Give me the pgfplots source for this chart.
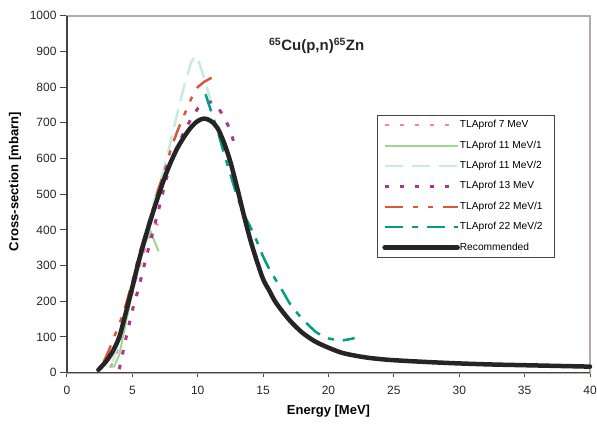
\documentclass[border=0pt]{standalone}
\usepackage{fontspec}
\setmainfont{Liberation Sans}
\usepackage{pgfplots}
\pgfplotsset{compat=1.18}
\definecolor{cPink}{HTML}{E584BF}
\definecolor{cGreen}{HTML}{9DD88E}
\definecolor{cMint}{HTML}{C9EBDD}
\definecolor{cPurple}{HTML}{A8358F}
\definecolor{cOrange}{HTML}{D9583C}
\definecolor{cTeal}{HTML}{009E82}
\definecolor{cBlack}{HTML}{262424}
\definecolor{cBorder}{HTML}{B8A9A9}
\definecolor{cAxis}{HTML}{4A4242}
\begin{document}
\begin{tikzpicture}
\path[use as bounding box] (0,0) rectangle (597pt,423pt);
\begin{axis}[
  at={(67pt,50.3pt)}, anchor=south west,
  scale only axis, width=523pt, height=357pt,
  xmin=0, xmax=40, ymin=0, ymax=1000,
  xtick={0,5,...,40}, ytick={0,100,...,1000},
  tick pos=left, tick align=outside,
  major tick length=7pt,
  xtick style={/pgfplots/major tick length=4.5pt},
  axis line style={draw=cBorder, line width=2pt},
  tick style={draw=cAxis, line width=1pt},
  clip=false,
  /pgf/number format/assume math mode=true,
  /pgf/number format/1000 sep={},
  tick label style={font=\fontsize{12}{14}\selectfont, text=black!85},
  xticklabel style={yshift=-3pt},
  xlabel={Energy [MeV]}, ylabel={Cross-section [mbarn]},
  label style={font=\bfseries\fontsize{13}{15}\selectfont},
  x label style={at={(axis description cs:0.5,-0.1073)}, anchor=center},
  y label style={at={(axis description cs:-0.0994,0.535)}, anchor=center, rotate=0},
  legend image code/.code={\draw[#1] (0pt,0pt) -- (73pt,0pt);},
  legend cell align=left,
  legend style={at={(axis description cs:0.5927,0.7218)}, anchor=north west,
    draw=cAxis, line width=0.8pt, inner xsep=5pt, inner ysep=4.8pt,
    font=\fontsize{10.2}{12}\selectfont, row sep=10.4pt,
    nodes={text height=7.5pt, text depth=2.5pt, inner sep=0pt}},
]
\draw[cAxis, line width=1.3pt] (rel axis cs:0,1) -- (rel axis cs:0,0) -- (rel axis cs:1,0);

\addplot[cPink, line width=2pt, dash pattern=on 4.5pt off 10.5pt] coordinates {
(3.3,15) (3.7,40) (4.0,80) (4.5,150) (5.0,220) (5.5,290) (6.0,350) (6.5,400) (6.8,418) (7.3,405)};
\addlegendentry{\makebox[90pt][l]{TLAprof 7 MeV}}

\addplot[cGreen, line width=2pt] coordinates {
(3.2,17) (3.6,17) (4.0,50) (4.5,140) (5.0,225) (5.5,300) (6.0,365) (6.4,395) (7.0,340)};
\addlegendentry{TLAprof 11 MeV/1}

\addplot[cMint, line width=2.5pt, dash pattern=on 18pt off 9pt] coordinates {
(3.5,30) (4.0,100) (4.5,170) (5.0,245) (5.5,320) (6.0,390) (6.5,460) (7.0,525) (7.5,580) (8.0,660) (8.5,735) (9.0,810) (9.5,870) (9.8,888) (10.0,880) (10.5,825) (11.0,760) (11.2,735)};
\addlegendentry{TLAprof 11 MeV/2}

\addplot[cPurple, line width=3pt, dash pattern=on 4.5pt off 10.5pt] coordinates {
(4.0,10) (4.5,95) (5.0,175) (5.5,240) (6.0,315) (6.5,385) (7.0,455) (7.5,530) (8.0,596) (8.5,640) (9.0,678) (9.5,712) (10.0,740) (10.5,755) (11.0,758) (11.5,745) (12.0,718) (12.5,678) (12.8,640)};
\addlegendentry{TLAprof 13 MeV}

\addplot[cOrange, line width=2.5pt, dash pattern=on 18pt off 10pt on 5pt off 10pt on 5pt off 10pt] coordinates {
(2.8,30) (3.2,62) (3.6,100) (4.0,135) (4.5,190) (5.0,255) (5.5,330) (6.0,390) (6.5,450) (7.0,515) (7.5,570) (8.0,633) (8.5,682) (9.0,725) (9.5,768) (10.0,800) (10.5,815) (11.0,825) (11.5,823) (11.7,820)};
\addlegendentry{TLAprof 22 MeV/1}

\addplot[cTeal, line width=2.5pt, dash pattern=on 18pt off 9pt on 6pt off 9pt] coordinates {
(10.6,780) (11.0,735) (11.5,680) (12.0,615) (12.5,555) (13.0,495) (13.5,445) (14.0,410) (14.5,370) (15.0,325) (15.5,288) (16.0,258) (16.5,228) (17.0,196) (17.5,172) (18.0,150) (18.5,132) (19.0,115) (19.5,103) (20.0,96) (20.5,92) (21.0,90) (21.5,93) (22.0,97)};
\addlegendentry{TLAprof 22 MeV/2}

\addplot[cBlack, line width=4.5pt, line cap=round, line join=round, smooth] coordinates {
(2.4,8) (3.0,32) (3.5,60) (4.0,100) (4.5,168) (5.0,240) (5.5,314) (6.0,380) (6.5,440) (7.0,497) (7.5,550) (8.0,595) (8.5,633) (9.0,663) (9.5,688) (10.0,705) (10.5,712) (11.0,705) (11.5,686) (12.0,645) (12.5,590) (13.0,520) (13.5,445) (14.0,375) (14.5,315) (15.0,262) (15.5,228) (16.0,195) (17.0,148) (18.0,112) (19.0,87) (20.0,70) (21.0,56) (22.0,48) (23.0,42) (24.0,38) (25.0,35) (27.5,30) (30,26) (32.5,23) (35,21) (37.5,19) (40,17)};
\addlegendentry{Recommended}

\node[font=\bfseries\fontsize{15}{17}\selectfont, text=black!85] at (axis cs:19.1,915) {\textsuperscript{65}Cu(p,n)\textsuperscript{65}Zn};
\end{axis}
\end{tikzpicture}
\end{document}
